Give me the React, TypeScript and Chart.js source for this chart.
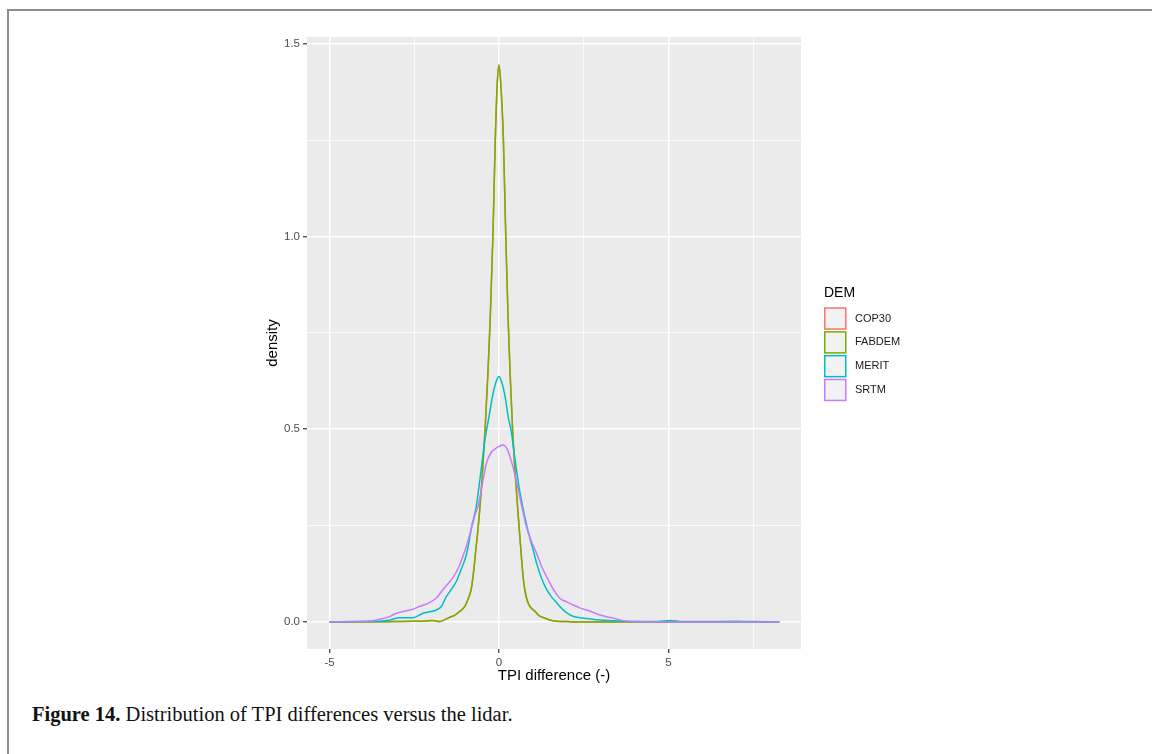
import React, { useEffect, useRef } from 'react';
import { Chart, registerables } from 'chart.js';

Chart.register(...registerables);

// ---- data ----
const seriesNames = ['COP30', 'FABDEM', 'MERIT', 'SRTM'];
const seriesColors = ['#F8766D', '#7CAE00', '#00BFC4', '#C77CFF'];

const fabdemX = [-5, -3.5, -2.54, -2.2, -1.96, -1.76, -1.6, -1.46, -1.3, -1.16, -1.0, -0.9, -0.82, -0.75, -0.68, -0.61, -0.5, -0.41, -0.33, -0.26, -0.18, -0.11, -0.05, 0, 0.05, 0.13, 0.2, 0.27, 0.33, 0.4, 0.49, 0.59, 0.66, 0.72, 0.79, 0.87, 0.95, 1.03, 1.11, 1.2, 1.35, 1.5, 1.7, 2.0, 2.5, 8.27];
const fabdemY = [0, 0.0005, 0.002, 0.002, 0.004, 0.001, 0.006, 0.012, 0.018, 0.027, 0.042, 0.062, 0.085, 0.13, 0.19, 0.25, 0.37, 0.5, 0.64, 0.784, 1.0, 1.25, 1.4, 1.445, 1.4, 1.25, 1.0, 0.784, 0.64, 0.5, 0.37, 0.25, 0.17, 0.11, 0.07, 0.047, 0.036, 0.03, 0.023, 0.015, 0.01, 0.005, 0.002, 0.001, 0, 0];

// COP30 is hidden beneath FABDEM in the reference
const cop30X = [-5, -3.5, -2.54, -2.2, -1.96, -1.76, -1.6, -1.46, -1.3, -1.16, -1.0, -0.9, -0.82, -0.75, -0.68, -0.61, -0.5, -0.41, -0.33, -0.26, -0.18, -0.11, -0.05, 0, 0.05, 0.13, 0.2, 0.27, 0.33, 0.4, 0.49, 0.59, 0.66, 0.72, 0.79, 0.87, 0.95, 1.03, 1.11, 1.2, 1.35, 1.5, 1.7, 2.0, 2.5, 8.27];
const cop30Y = [0, 0.0005, 0.002, 0.002, 0.004, 0.001, 0.006, 0.012, 0.018, 0.027, 0.042, 0.062, 0.085, 0.13, 0.19, 0.25, 0.37, 0.5, 0.64, 0.784, 1.0, 1.25, 1.4, 1.445, 1.4, 1.25, 1.0, 0.784, 0.64, 0.5, 0.37, 0.25, 0.17, 0.11, 0.07, 0.047, 0.036, 0.03, 0.023, 0.015, 0.01, 0.005, 0.002, 0.001, 0, 0];

const meritX = [-5, -4, -3.53, -3.23, -2.94, -2.54, -2.25, -2.0, -1.85, -1.7, -1.56, -1.4, -1.26, -1.1, -0.96, -0.8, -0.67, -0.52, -0.42, -0.3, -0.18, -0.08, 0, 0.07, 0.17, 0.27, 0.37, 0.46, 0.61, 0.83, 1.0, 1.11, 1.25, 1.4, 1.55, 1.7, 1.85, 1.99, 2.2, 2.39, 2.6, 2.88, 3.37, 4, 4.6, 5.05, 5.4, 6, 7, 7.5, 8.27];
const meritY = [0, 0.001, 0.002, 0.005, 0.011, 0.011, 0.022, 0.027, 0.031, 0.04, 0.065, 0.085, 0.105, 0.14, 0.175, 0.25, 0.3, 0.4, 0.47, 0.53, 0.59, 0.625, 0.637, 0.625, 0.59, 0.533, 0.49, 0.43, 0.34, 0.245, 0.19, 0.152, 0.115, 0.085, 0.065, 0.05, 0.035, 0.024, 0.014, 0.011, 0.009, 0.006, 0.003, 0.001, 0.001, 0.004, 0.001, 0.001, 0.002, 0.001, 0];

const srtmX = [-5, -4.4, -3.73, -3.53, -3.23, -3.04, -2.74, -2.54, -2.35, -2.05, -1.85, -1.66, -1.5, -1.36, -1.2, -1.07, -0.95, -0.82, -0.7, -0.62, -0.47, -0.37, -0.25, -0.1, 0, 0.1, 0.17, 0.25, 0.32, 0.41, 0.5, 0.61, 0.71, 0.81, 0.95, 1.11, 1.25, 1.4, 1.6, 1.8, 2.0, 2.19, 2.4, 2.59, 2.8, 2.98, 3.2, 3.37, 3.67, 4, 5, 8.27];
const srtmY = [0, 0.001, 0.003, 0.007, 0.014, 0.022, 0.029, 0.033, 0.04, 0.05, 0.062, 0.083, 0.1, 0.115, 0.14, 0.169, 0.2, 0.24, 0.28, 0.3, 0.368, 0.412, 0.437, 0.45, 0.455, 0.459, 0.457, 0.447, 0.43, 0.403, 0.37, 0.325, 0.285, 0.247, 0.21, 0.178, 0.145, 0.118, 0.085, 0.061, 0.052, 0.044, 0.036, 0.031, 0.024, 0.018, 0.013, 0.01, 0.003, 0.001, 0, 0];

const xTicks = [-5, -2.5, 0, 2.5, 5, 7.5];
const xTickLabels = ['-5', '', '0', '', '5', ''];
const yTicks = [0, 0.25, 0.5, 0.75, 1.0, 1.25, 1.5];
const yTickLabels = ['0.0', '', '0.5', '', '1.0', '', '1.5'];

const xTitle = 'TPI difference (-)';
const yTitle = 'density';
const legendTitle = 'DEM';

const seriesX = [cop30X, fabdemX, meritX, srtmX];
const seriesY = [cop30Y, fabdemY, meritY, srtmY];

const SANS = '"Liberation Sans", Arial, Helvetica, sans-serif';

const panelBg = {
  id: 'panelBg',
  beforeDraw(chart: any) {
    const { ctx, chartArea } = chart;
    ctx.save();
    ctx.fillStyle = '#EBEBEB';
    ctx.fillRect(chartArea.left, chartArea.top, chartArea.right - chartArea.left, chartArea.bottom - chartArea.top);
    ctx.restore();
  },
};

const ggLegend = {
  id: 'ggLegend',
  afterDraw(chart: any) {
    const { ctx } = chart;
    const x0 = 824;
    ctx.save();
    ctx.fillStyle = '#000000';
    ctx.font = `14px ${SANS}`;
    ctx.textBaseline = 'middle';
    ctx.textAlign = 'left';
    ctx.fillText(legendTitle, x0, 293);
    const box = 22.5;
    const step = 23.8;
    seriesNames.forEach((name, i) => {
      const y = 307.3 + i * step;
      ctx.fillStyle = '#F2F2F2';
      ctx.fillRect(x0, y, box, box);
      ctx.strokeStyle = seriesColors[i];
      ctx.lineWidth = 1.5;
      ctx.strokeRect(x0 + 0.75, y + 0.75, box - 1.5, box - 1.5);
      ctx.fillStyle = '#1A1A1A';
      ctx.font = `11px ${SANS}`;
      ctx.fillText(name, 855, y + box / 2);
    });
    ctx.restore();
  },
};

export default function App() {
  const ref = useRef<HTMLCanvasElement | null>(null);

  useEffect(() => {
    if (!ref.current) return;
    const order = [4, 3, 2, 1];
    const chart = new Chart(ref.current, {
      type: 'line',
      data: {
        datasets: seriesNames.map((name, i) => ({
          label: name,
          data: seriesX[i].map((x, j) => ({ x, y: seriesY[i][j] })),
          borderColor: seriesColors[i],
          backgroundColor: '#F2F2F2',
          borderWidth: 1.5,
          pointRadius: 0,
          fill: false,
          cubicInterpolationMode: 'monotone' as const,
          order: order[i],
        })),
      },
      options: {
        animation: false,
        responsive: false,
        devicePixelRatio: 1,
        layout: { padding: { left: 264, right: 351, top: 37, bottom: 15 } },
        plugins: {
          legend: { display: false },
          tooltip: { enabled: false },
        },
        scales: {
          x: {
            type: 'linear',
            min: -5.664,
            max: 8.909,
            afterBuildTicks: (s: any) => {
              s.ticks = xTicks.map((v) => ({ value: v }));
            },
            afterFit: (s: any) => {
              s.height = 36;
            },
            border: { display: false },
            grid: {
              color: '#FFFFFF',
              lineWidth: (c: any) => (xTickLabels[c.index] ? 1.5 : 0.75),
              tickLength: 4,
              tickWidth: 1.2,
              tickColor: (c: any) => (xTickLabels[c.index] ? '#333333' : 'rgba(0,0,0,0)'),
            },
            ticks: {
              autoSkip: false,
              maxRotation: 0,
              padding: 3,
              color: '#4D4D4D',
              font: { family: SANS, size: 11.5 },
              callback: (_v: any, i: number) => xTickLabels[i],
            },
            title: {
              display: true,
              text: xTitle,
              color: '#000000',
              padding: 0,
              font: { family: SANS, size: 15 },
            },
          },
          y: {
            type: 'linear',
            min: -0.0701,
            max: 1.5174,
            afterBuildTicks: (s: any) => {
              s.ticks = yTicks.map((v) => ({ value: v }));
            },
            afterFit: (s: any) => {
              s.width = 43;
            },
            border: { display: false },
            grid: {
              color: '#FFFFFF',
              lineWidth: (c: any) => (yTickLabels[c.index] ? 1.5 : 0.75),
              tickLength: 4,
              tickWidth: 1.2,
              tickColor: (c: any) => (yTickLabels[c.index] ? '#333333' : 'rgba(0,0,0,0)'),
            },
            ticks: {
              autoSkip: false,
              padding: 3,
              color: '#4D4D4D',
              font: { family: SANS, size: 11.5 },
              callback: (_v: any, i: number) => yTickLabels[i],
            },
            title: {
              display: true,
              text: yTitle,
              color: '#000000',
              padding: 0,
              font: { family: SANS, size: 15 },
            },
          },
        },
      },
      plugins: [panelBg, ggLegend],
    } as any);
    return () => chart.destroy();
  }, []);

  return (
    <div style={{ position: 'fixed', left: 0, top: 0, width: 1152, height: 754, background: '#FFFFFF', overflow: 'hidden' }}>
      <div
        style={{
          position: 'absolute',
          left: 7,
          top: 9,
          width: 1152,
          height: 760,
          borderTop: '2px solid #8E8E8E',
          borderLeft: '2px solid #8E8E8E',
        }}
      />
      <canvas ref={ref} width={1152} height={700} style={{ position: 'absolute', left: 0, top: 0, width: 1152, height: 700 }} />
      <div
        style={{
          position: 'absolute',
          left: 32,
          top: 703,
          fontFamily: '"Liberation Serif", "Times New Roman", serif',
          fontSize: 20.5,
          color: '#111111',
          whiteSpace: 'nowrap',
        }}
      >
        <b>Figure 14.</b> Distribution of TPI differences versus the lidar.
      </div>
    </div>
  );
}
